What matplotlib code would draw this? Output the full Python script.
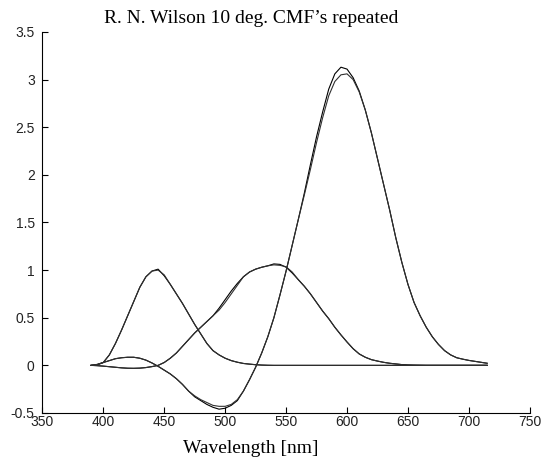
import matplotlib
matplotlib.use('Agg')
import matplotlib.pyplot as plt

# ==========================================
# Data (5 nm steps, 390-715 nm)
# ==========================================
wavelength = list(range(390, 716, 5))

# first set
b1 = [0.0, 0.005, 0.03, 0.11, 0.23, 0.37, 0.52, 0.67, 0.82, 0.93, 0.99, 1.01,
      0.94, 0.85, 0.75, 0.65, 0.54, 0.43, 0.33, 0.23, 0.155, 0.11, 0.075, 0.05,
      0.033, 0.02, 0.013, 0.007, 0.003, 0.001, 0.0, 0.0, 0.0, 0.0, 0.0, 0.0,
      0.0, 0.0, 0.0, 0.0, 0.0, 0.0, 0.0, 0.0, 0.0, 0.0, 0.0, 0.0,
      0.0, 0.0, 0.0, 0.0, 0.0, 0.0, 0.0, 0.0, 0.0, 0.0, 0.0, 0.0,
      0.0, 0.0, 0.0, 0.0, 0.0, 0.0]
g1 = [0.0, -0.003, -0.008, -0.014, -0.02, -0.026, -0.03, -0.031, -0.029, -0.023, -0.013, 0.0,
      0.03, 0.075, 0.13, 0.2, 0.27, 0.34, 0.4, 0.46, 0.52, 0.6, 0.69, 0.78,
      0.86, 0.93, 0.98, 1.01, 1.03, 1.045, 1.065, 1.06, 1.03, 0.97, 0.9, 0.83,
      0.75, 0.66, 0.57, 0.49, 0.4, 0.32, 0.245, 0.175, 0.12, 0.085, 0.06, 0.045,
      0.032, 0.022, 0.015, 0.008, 0.004, 0.002, 0.001, 0.0, 0.0, 0.0, 0.0, 0.0,
      0.0, 0.0, 0.0, 0.0, 0.0, 0.0]
r1 = [0.0, 0.01, 0.03, 0.05, 0.07, 0.08, 0.085, 0.085, 0.075, 0.055, 0.025, -0.01,
      -0.05, -0.09, -0.14, -0.2, -0.27, -0.33, -0.37, -0.41, -0.44, -0.46, -0.45, -0.42,
      -0.37, -0.27, -0.15, -0.02, 0.13, 0.3, 0.5, 0.74, 0.99, 1.26, 1.53, 1.81,
      2.11, 2.4, 2.66, 2.9, 3.06, 3.13, 3.11, 3.02, 2.88, 2.68, 2.44, 2.17,
      1.9, 1.63, 1.34, 1.08, 0.85, 0.66, 0.52, 0.4, 0.3, 0.22, 0.155, 0.11,
      0.08, 0.065, 0.052, 0.042, 0.032, 0.022]

# repeated set
b2 = [0.0, 0.005, 0.03, 0.11, 0.23, 0.37, 0.52, 0.67, 0.82, 0.93, 0.99, 1.0,
      0.95, 0.85, 0.75, 0.65, 0.54, 0.43, 0.33, 0.23, 0.155, 0.11, 0.075, 0.05,
      0.033, 0.02, 0.013, 0.007, 0.003, 0.001, 0.0, 0.0, 0.0, 0.0, 0.0, 0.0,
      0.0, 0.0, 0.0, 0.0, 0.0, 0.0, 0.0, 0.0, 0.0, 0.0, 0.0, 0.0,
      0.0, 0.0, 0.0, 0.0, 0.0, 0.0, 0.0, 0.0, 0.0, 0.0, 0.0, 0.0,
      0.0, 0.0, 0.0, 0.0, 0.0, 0.0]
g2 = [0.0, -0.003, -0.008, -0.014, -0.02, -0.026, -0.03, -0.031, -0.029, -0.023, -0.013, 0.0,
      0.03, 0.075, 0.13, 0.2, 0.27, 0.34, 0.4, 0.46, 0.52, 0.58, 0.66, 0.75,
      0.84, 0.93, 0.98, 1.01, 1.03, 1.045, 1.055, 1.05, 1.035, 0.98, 0.9, 0.83,
      0.75, 0.66, 0.57, 0.49, 0.4, 0.32, 0.245, 0.175, 0.12, 0.085, 0.06, 0.045,
      0.032, 0.022, 0.015, 0.008, 0.004, 0.002, 0.001, 0.0, 0.0, 0.0, 0.0, 0.0,
      0.0, 0.0, 0.0, 0.0, 0.0, 0.0]
r2 = [0.0, 0.01, 0.03, 0.05, 0.07, 0.08, 0.085, 0.085, 0.075, 0.055, 0.025, -0.01,
      -0.05, -0.09, -0.14, -0.2, -0.27, -0.32, -0.36, -0.39, -0.42, -0.43, -0.43, -0.41,
      -0.36, -0.27, -0.15, -0.02, 0.13, 0.3, 0.5, 0.74, 0.99, 1.26, 1.53, 1.79,
      2.06, 2.34, 2.6, 2.83, 2.98, 3.05, 3.06, 3.0, 2.87, 2.68, 2.44, 2.17,
      1.9, 1.63, 1.34, 1.08, 0.85, 0.66, 0.52, 0.4, 0.3, 0.22, 0.155, 0.11,
      0.08, 0.065, 0.052, 0.042, 0.032, 0.022]

title_text = "R. N. Wilson 10 deg. CMF\u2019s repeated"
xlabel_text = "Wavelength [nm]"

# ==========================================
# Figure
# ==========================================
fig = plt.figure(figsize=(5.54, 4.63), dpi=100)
ax = fig.add_axes([0.0764, 0.108, 0.880, 0.823])

for y in (r1, g1, b1):
    ax.plot(wavelength, y, color='black', linewidth=0.8)
for y in (r2, g2, b2):
    ax.plot(wavelength, y, color='#303030', linewidth=0.8)

ax.set_xlim(350, 750)
ax.set_ylim(-0.5, 3.5)
ax.set_xticks(range(350, 751, 50))
ax.set_yticks([-0.5, 0, 0.5, 1, 1.5, 2, 2.5, 3, 3.5])
ax.set_yticklabels(['-0.5', '0', '0.5', '1', '1.5', '2', '2.5', '3', '3.5'])

for side in ('top', 'right'):
    ax.spines[side].set_visible(False)
for side in ('left', 'bottom'):
    ax.spines[side].set_linewidth(0.8)

ax.tick_params(direction='in', length=4, width=0.8, labelsize=10)
ax.tick_params(axis='x', pad=1.5)
ax.tick_params(axis='y', pad=5.5)
for lab in ax.get_xticklabels() + ax.get_yticklabels():
    lab.set_fontfamily('Liberation Sans')
    lab.set_color('#222222')

fig.text(0.453, 0.951, title_text, ha='center', va='baseline',
         fontsize=14, family='Liberation Serif')
fig.text(0.453, 0.021, xlabel_text, ha='center', va='baseline',
         fontsize=14, family='Liberation Serif')

fig.savefig('out.png', dpi=100)
